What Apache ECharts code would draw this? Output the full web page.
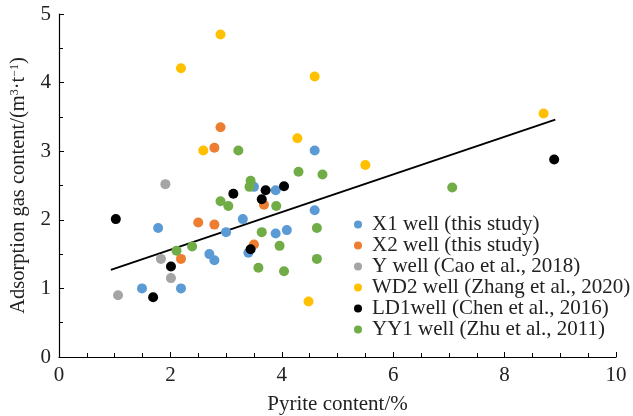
<!DOCTYPE html>
<html><head><meta charset="utf-8">
<script src="https://cdn.jsdelivr.net/npm/echarts@6/dist/echarts.min.js"></script>
<style>html,body{margin:0;padding:0;background:#fff}#c{width:633px;height:416px}</style>
</head><body><div id="c"></div>
<script>
const seriesNames = ['X1 well (this study)','X2 well (this study)','Y well (Cao et al., 2018)','WD2 well (Zhang et al., 2020)','LD1well (Chen et al., 2016)','YY1 well (Zhu et al., 2011)'];
const colors = ['#5B9BD5','#ED7D31','#A5A5A5','#FFC000','#000000','#70AD47'];
const x1X = [1.78,3.30,3.00,3.89,4.09,4.59,4.59,3.50,3.89,2.70,2.79,3.40,1.49,2.19];
const x1Y = [1.88,2.01,1.82,1.80,1.85,3.01,2.14,2.48,2.43,1.50,1.41,1.52,1.00,1.00];
const x2X = [2.90,2.79,3.68,2.50,2.79,3.50,2.19];
const x2Y = [3.35,3.05,2.22,1.96,1.93,1.64,1.43];
const yX = [1.91,1.83,2.01,1.06];
const yY = [2.52,1.43,1.15,0.90];
const wd2X = [2.90,2.19,4.59,4.28,2.59,5.50,8.70,4.48];
const wd2Y = [4.70,4.21,4.09,3.19,3.01,2.80,3.55,0.81];
const ld1X = [1.02,3.13,3.64,3.71,4.04,3.44,2.01,1.69,8.89];
const ld1Y = [2.01,2.38,2.30,2.43,2.49,1.57,1.32,0.87,2.88];
const yy1X = [3.22,4.30,4.73,3.44,3.42,2.90,3.04,3.90,3.64,4.63,2.11,2.39,3.96,3.58,4.04,4.63,7.06];
const yy1Y = [3.01,2.70,2.66,2.57,2.48,2.27,2.20,2.20,1.82,1.88,1.55,1.61,1.62,1.30,1.25,1.43,2.47];
const trendX = [0.93, 8.91];
const trendY = [1.27, 3.46];
const xTicks = [0,2,4,6,8,10];
const yTicks = [0,1,2,3,4,5];

const zip = (a,b) => a.map((v,i)=>[v,b[i]]);
const groups = [[x1X,x1Y],[x2X,x2Y],[yX,yY],[wd2X,wd2Y],[ld1X,ld1Y],[yy1X,yy1Y]];
const font = '"Liberation Serif","Times New Roman",serif';
const series = groups.map((g,i)=>({
  name: seriesNames[i], type:'scatter', data: zip(g[0],g[1]),
  symbol:'circle', symbolSize:10, itemStyle:{color:colors[i], opacity:1}, z:3
}));
series.push({type:'line', data: zip(trendX,trendY), symbol:'none',
  lineStyle:{color:'#000', width:2}, z:2, silent:true});

const chart = echarts.init(document.getElementById('c'));
chart.setOption({
  animation:false,
  backgroundColor:'#fff',
  grid:{left:59, right:17, top:14, bottom:59, outerBoundsMode:'none', containLabel:false},
  legend:{
    data: seriesNames, orient:'vertical', left:354, top:214, padding:0,
    icon:'circle', itemWidth:8, itemHeight:8, itemGap:0,
    textStyle:{fontFamily:font, fontSize:21, lineHeight:21, color:'#222', padding:[0,0,0,5]}
  },
  xAxis:{
    type:'value', min:xTicks[0], max:xTicks[xTicks.length-1], interval:2,
    name:'Pyrite content/%', nameLocation:'middle', nameGap:37,
    nameTextStyle:{fontFamily:font, fontSize:21, color:'#222'},
    axisLine:{lineStyle:{color:'#000', width:1.2}},
    axisTick:{inside:true, length:5, lineStyle:{color:'#000'}},
    minorTick:{show:true, splitNumber:4, length:4, lineStyle:{color:'#000'}},
    axisLabel:{fontFamily:font, fontSize:21, color:'#222', margin:8},
    splitLine:{show:false}
  },
  yAxis:{
    type:'value', min:yTicks[0], max:yTicks[yTicks.length-1], interval:1,
    name:'Adsorption gas content/(m{sup|3}·t{sup|−1})', nameLocation:'middle', nameGap:21,
    nameTextStyle:{fontFamily:font, fontSize:20.5, color:'#222',
      rich:{sup:{fontFamily:font, fontSize:12, verticalAlign:'top', padding:[0,0,9,0], color:'#222'}}},
    axisLine:{lineStyle:{color:'#000', width:1.2}},
    axisTick:{inside:true, length:5, lineStyle:{color:'#000'}},
    minorTick:{show:true, splitNumber:2, length:4, lineStyle:{color:'#000'}},
    axisLabel:{fontFamily:font, fontSize:21, color:'#222', margin:8},
    splitLine:{show:false}
  },
  series: series
});
</script></body></html>
